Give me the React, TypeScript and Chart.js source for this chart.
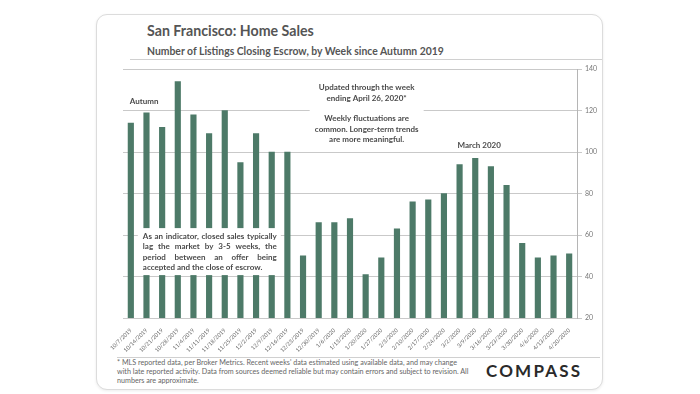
import React, { useEffect, useRef } from "react";
import { Chart, registerables } from "chart.js";

Chart.register(...registerables);

const weeks = [
  "10/7/2019", "10/14/2019", "10/21/2019", "10/28/2019", "11/4/2019", "11/11/2019",
  "11/18/2019", "11/25/2019", "12/2/2019", "12/9/2019", "12/16/2019", "12/23/2019",
  "12/30/2019", "1/6/2020", "1/13/2020", "1/20/2020", "1/27/2020", "2/3/2020",
  "2/10/2020", "2/17/2020", "2/24/2020", "3/2/2020", "3/9/2020", "3/16/2020",
  "3/23/2020", "3/30/2020", "4/6/2020", "4/13/2020", "4/20/2020",
];
const closings = [
  114, 119, 112, 134, 118, 109, 120, 95, 109, 100, 100, 50,
  66, 66, 68, 41, 49, 63, 76, 77, 80, 94, 97, 93,
  84, 56, 49, 50, 51,
];
const yTicks = [20, 40, 60, 80, 100, 120, 140];

const FONT = "Lato, 'Open Sans', sans-serif";
const BAR = "#4d7a68";
const TEXT = "#4a4a4a";

const annotationPlugin = {
  id: "notes",
  afterDatasetsDraw(chart: any) {
    const { ctx, scales } = chart;
    const x = scales.x;
    const y = scales.y;
    ctx.save();
    ctx.fillStyle = TEXT;
    ctx.textBaseline = "middle";

    // Autumn
    ctx.font = `bold 8px ${FONT}`;
    ctx.textAlign = "left";
    ctx.fillText("Autumn", x.getPixelForValue(0) - 1, y.getPixelForValue(124.5));

    // March 2020
    const mx = x.getPixelForValue(21) - 2;
    const my = y.getPixelForValue(103);
    const mw = ctx.measureText("March 2020").width;
    ctx.fillStyle = "#fff";
    ctx.fillRect(mx - 6, my - 6, mw + 12, 12);
    ctx.fillStyle = TEXT;
    ctx.fillText("March 2020", mx, my);

    // Updated box
    const cx = x.getPixelForValue(15) + 1;
    const top = y.getPixelForValue(131);
    ctx.fillStyle = "#fff";
    ctx.fillRect(cx - 57, top - 8, 114, 63);
    ctx.fillStyle = TEXT;
    ctx.textAlign = "center";
    const lines1 = ["Updated through the week", "ending April 26, 2020*"];
    lines1.forEach((t, i) => ctx.fillText(t, cx, top + i * 11));
    const lines2 = ["Weekly fluctuations are", "common. Longer-term trends", "are more meaningful."];
    lines2.forEach((t, i) => ctx.fillText(t, cx, top + 31 + i * 10.3));

    // Indicator box (justified)
    const lx = x.getPixelForValue(0) + 12;
    const lw = 134;
    const ly = y.getPixelForValue(59.5);
    ctx.fillStyle = "#fff";
    ctx.fillRect(lx - 5, ly - 8, lw + 9, 47);
    ctx.fillStyle = TEXT;
    ctx.textAlign = "left";
    const para = [
      "As an indicator, closed sales typically",
      "lag the market by 3-5 weeks, the",
      "period between an offer being",
      "accepted and the close of escrow.",
    ];
    para.forEach((line, i) => {
      const yy = ly + i * 10.5;
      if (i === para.length - 1) {
        ctx.fillText(line, lx, yy);
        return;
      }
      const words = line.split(" ");
      const total = words.reduce((s, w) => s + ctx.measureText(w).width, 0);
      const gap = (lw - total) / (words.length - 1);
      let px = lx;
      words.forEach((w) => {
        ctx.fillText(w, px, yy);
        px += ctx.measureText(w).width + gap;
      });
    });
    ctx.restore();
  },
};

export default function App() {
  const ref = useRef<HTMLCanvasElement | null>(null);
  useEffect(() => {
    if (!ref.current) return;
    const chart = new Chart(ref.current, {
      type: "bar",
      data: {
        labels: weeks,
        datasets: [
          {
            data: closings,
            backgroundColor: BAR,
            borderWidth: 0,
            barThickness: 5.5,
          },
        ],
      },
      options: {
        animation: false,
        responsive: false,
        maintainAspectRatio: false,
        layout: { padding: { left: 23, top: 7, right: 0, bottom: 0 } },
        plugins: { legend: { display: false }, tooltip: { enabled: false } },
        scales: {
          x: {
            grid: { display: false },
            border: { display: false },
            ticks: {
              color: "#666",
              font: { family: FONT, size: 5.6 },
              minRotation: 45,
              maxRotation: 45,
              autoSkip: false,
              padding: 1,
            },
            afterFit: (s: any) => {
              s.height = 36;
              s.paddingLeft = 0;
              s.paddingRight = 0;
            },
          },
          y: {
            position: "right",
            min: 20,
            max: 140,
            afterBuildTicks: (s: any) => { s.ticks = yTicks.map((v) => ({ value: v })); },
            grid: { color: "#c9c9c9", lineWidth: 1, drawTicks: true, tickLength: 5 },
            border: { display: true, color: "#b5b5b5" },
            ticks: {
              color: "#777",
              font: { family: FONT, size: 7 },
              padding: 3,
            },
            afterFit: (s: any) => { s.width = 28; },
          },
        },
      },
      plugins: [annotationPlugin],
    });
    return () => chart.destroy();
  }, []);

  return (
    <div style={{ position: "absolute", left: 0, top: 0, width: 700, height: 394, background: "#fff", fontFamily: FONT }}>
      <div style={{ position: "absolute", left: 96, top: 14, width: 505, height: 374, border: "1px solid #dcdcdc", borderRadius: 11, boxShadow: "0 1px 3px rgba(0,0,0,0.08)", background: "#fff" }} />
      <div style={{ position: "absolute", left: 147, top: 22, fontSize: 14.2, fontWeight: 700, color: "#555", whiteSpace: "nowrap" }}>
        San Francisco: Home Sales
      </div>
      <div style={{ position: "absolute", left: 147, top: 45, fontSize: 10.4, fontWeight: 700, color: "#555", whiteSpace: "nowrap" }}>
        Number of Listings Closing Escrow, by Week since Autumn 2019
      </div>
      <div style={{ position: "absolute", left: 130, top: 59, width: 472, height: 1, background: "#d0d0d0" }} />
      <canvas ref={ref} width={505} height={292} style={{ position: "absolute", left: 100, top: 62, width: 505, height: 292 }} />
      <div style={{ position: "absolute", left: 117, top: 357, width: 483, height: 1, background: "#d0d0d0" }} />
      <div style={{ position: "absolute", left: 117, top: 358, fontSize: 7.2, lineHeight: "9px", color: "#666", whiteSpace: "nowrap" }}>
        * MLS reported data, per Broker Metrics. Recent weeks' data estimated using available data, and may change<br />
        with late reported activity. Data from sources deemed reliable but may contain errors and subject to revision. All<br />
        numbers are approximate.
      </div>
      <div style={{ position: "absolute", left: 486, top: 361, fontSize: 17, fontWeight: 700, letterSpacing: 2.2, color: "#2a2a2a", whiteSpace: "nowrap", lineHeight: "20px" }}>
        COMPASS
      </div>
    </div>
  );
}
